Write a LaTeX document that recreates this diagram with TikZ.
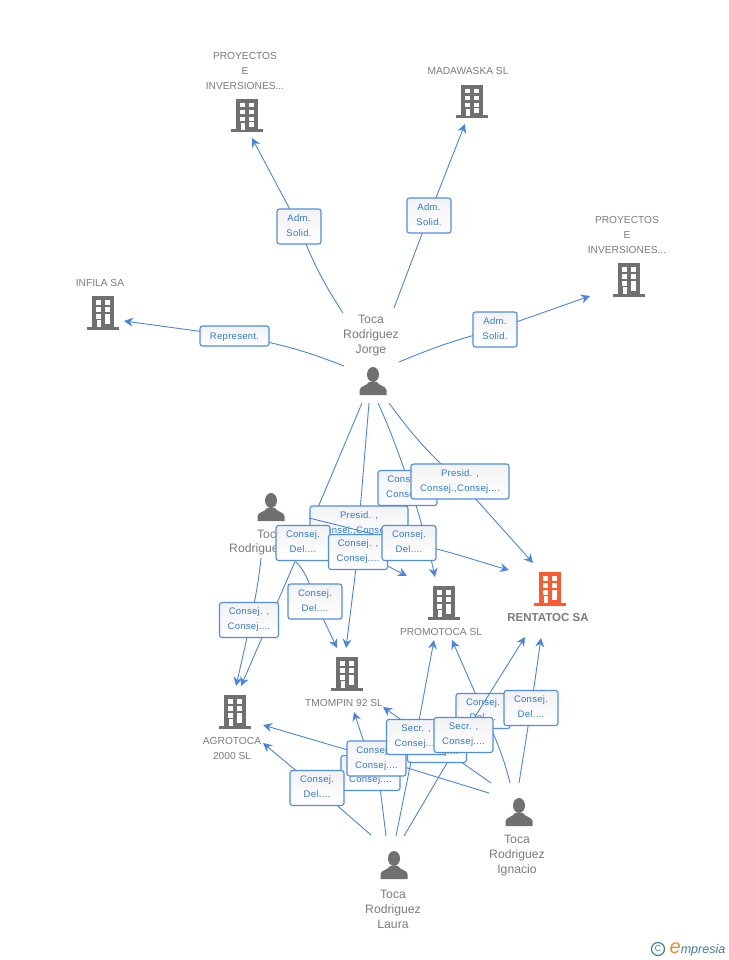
\documentclass[tikz,border=0pt]{standalone}
\usepackage{fontspec}
\setmainfont{Liberation Sans}
\newfontfamily\boxfont[LetterSpace=3]{Liberation Sans}
\usetikzlibrary{arrows.meta}
\definecolor{edgeblue}{HTML}{4A86E0}
\definecolor{boxblue}{HTML}{4F8DE6}
\definecolor{boxtext}{HTML}{2F78E0}
\definecolor{icongrey}{HTML}{707070}
\definecolor{txtgrey}{HTML}{7C7C7C}
\definecolor{hot}{HTML}{FF5A2E}
\definecolor{logoteal}{HTML}{3E7F95}
\definecolor{logoorange}{HTML}{F08A24}
\tikzset{
  edgeline/.style={draw=edgeblue,line width=0.9pt},
  tipline/.style={edgeline,-{Stealth[length=9pt,width=9pt,inset=3pt]}},
  lbl/.style={draw=boxblue,line width=1.1pt,rounded corners=2.5pt,top color=black!5,bottom color=white,
    text=boxtext,font=\boxfont\fontsize{9.5}{15}\selectfont,align=center,inner sep=0pt,
    execute at begin node={\rule{0pt}{9pt}},execute at end node={\rule[-2pt]{0pt}{2pt}}},
  lblA/.style={lbl,minimum width=54pt,minimum height=35pt},
  lblB/.style={lbl,minimum width=59pt,minimum height=35pt},
  lblC/.style={lbl,minimum width=44pt,minimum height=35pt},
  lblD/.style={lbl,minimum width=98pt,minimum height=35pt},
  cname/.style={text=txtgrey,align=center,inner sep=0pt,font=\fontsize{10.2}{15}\selectfont},
  pname/.style={text=txtgrey,align=center,inner sep=0pt,font=\fontsize{12.2}{15}\selectfont},
  building/.pic={
    \fill[#1] (-11,-17) rectangle (11,14);
    \fill[#1] (-16,13.5) rectangle (16,16.5);
    \foreach \yy in {-13,-6,1}{
      \fill[white] (-7,\yy) rectangle (-2,\yy+4.5);
      \fill[white] (2,\yy) rectangle (7,\yy+4.5);}
    \fill[white] (-6,7) rectangle (-2,14);
    \fill[white] (2,6) rectangle (7,11);
  },
  personicon/.pic={
    \fill[icongrey] (0,-6.5) ellipse (6 and 7.5);
    \fill[icongrey] (-13.5,14) -- (-13.5,9) .. controls (-13,5) and (-6,5) .. (-4,1) -- (4,1)
      .. controls (6,5) and (13,5) .. (13.5,9) -- (13.5,14) -- cycle;
  },
}
\begin{document}
\begin{tikzpicture}[x=1pt,y=-1pt]
\useasboundingbox[fill=white] (0,0) rectangle (728,960);

% Icons
\coordinate (proyA) at (247,116);
\coordinate (mada) at (472,102);
\coordinate (proyB) at (629,280);
\coordinate (infila) at (103,313);
\coordinate (promo) at (444,603);
\coordinate (tmom) at (347,674);
\coordinate (agro) at (235,712);
\coordinate (renta) at (550,589);
\coordinate (jorge) at (373,381);
\coordinate (leftp) at (271,507);
\coordinate (ignacio) at (519,812);
\coordinate (laura) at (394,865);
\foreach \b in {proyA,mada,proyB,infila,promo,tmom,agro}{\pic at (\b) {building=icongrey};}
\pic at (renta) {building=hot};
\foreach \p in {jorge,leftp,ignacio,laura}{\pic at (\p) {personicon};}

% Names
\node[cname] (nProyA) at (245,71) {PROYECTOS\\E\\INVERSIONES...};
\node[cname] (nMada) at (468,71) {MADAWASKA SL};
\node[cname] (nProyB) at (627,235) {PROYECTOS\\E\\INVERSIONES...};
\node[cname] (nInfila) at (100,283) {INFILA SA};
\node[cname] (nPromo) at (441,632) {PROMOTOCA SL};
\node[cname] (nTmom) at (344,703) {TMOMPIN 92 SL};
\node[cname] (nAgro) at (232,748.5) {AGROTOCA\\2000 SL};
\node[text=txtgrey,inner sep=0pt,font=\bfseries\fontsize{11.5}{15}\selectfont] (nRenta) at (548,618) {RENTATOC SA};
\node[pname] (nJorge) at (371,336) {Toca\\Rodriguez\\Jorge};
\node[pname] (nLeftA) at (270,534) {Toca};
\node[pname,anchor=west] (nLeftB) at (229,549) {Rodriguez};
\node[pname] (nIgnacio) at (517,856) {Toca\\Rodriguez\\Ignacio};
\node[pname] (nLaura) at (393,909) {Toca\\Rodriguez\\Laura};

% Connector ends
\coordinate (s1) at (343,313); \coordinate (t1) at (252,138);
\coordinate (s2) at (394,308); \coordinate (t2) at (465,124);
\coordinate (s3) at (399,362); \coordinate (t3) at (590,296);
\coordinate (s4) at (344,366); \coordinate (t4) at (124,321);
\coordinate (s5) at (362,403); \coordinate (t5) at (241,686);
\coordinate (s6) at (261,558); \coordinate (t6) at (236,686);
\coordinate (s7) at (296,562); \coordinate (t7) at (337,648);
\coordinate (s8) at (369,403); \coordinate (t8) at (346,648);
\coordinate (s9) at (309,518); \coordinate (t9) at (509,570);
\coordinate (s10) at (345,544); \coordinate (t10) at (407,576);
\coordinate (s11) at (378,403); \coordinate (t11) at (435,577);
\coordinate (s12) at (389,403); \coordinate (t12) at (533,563);
\coordinate (s13) at (371,835); \coordinate (t13) at (263,743);
\coordinate (s14) at (386,836); \coordinate (t14) at (354,712);
\coordinate (s15) at (489,793); \coordinate (t15) at (263,725);
\coordinate (s16) at (396,836); \coordinate (t16) at (434,640);
\coordinate (s17) at (404,836); \coordinate (t17) at (525,637);
\coordinate (s18) at (519,783); \coordinate (t18) at (541,638);
\coordinate (s19) at (510,783); \coordinate (t19) at (452,640);
\coordinate (s20) at (491,783); \coordinate (t20) at (383,707);

% Label centres
\coordinate (bAdmA) at (299,226.5);
\coordinate (bAdmB) at (429,215.5);
\coordinate (bAdmC) at (495,329.5);
\coordinate (bRep) at (234.5,336);
\coordinate (bPres1) at (359,523.5);
\coordinate (bPres2) at (460,481.5);
\coordinate (bCons1) at (407.5,488);
\coordinate (bDel1) at (303,543);
\coordinate (bCons2) at (358,552);
\coordinate (bDel2) at (409,543);
\coordinate (bDel3) at (315,601.5);
\coordinate (bCons3) at (249,620);
\coordinate (bDel4) at (317,788);
\coordinate (bCons4) at (376.5,758.5);
\coordinate (bCons5) at (370.5,773);
\coordinate (bCons6) at (437,745);
\coordinate (bSecr1) at (416,737);
\coordinate (bSecr2) at (463.5,735);
\coordinate (bDel5) at (483,711);
\coordinate (bDel6) at (531,708);
\coordinate (k14) at (369,758);

% Connectors
\draw[edgeline] (s1) to[bend left=6] (bAdmA);
\draw[tipline] (bAdmA) -- (t1);
\draw[edgeline] (s2) -- (bAdmB);
\draw[tipline] (bAdmB) -- (t2);
\draw[edgeline] (s3) to[bend left=4] (bAdmC);
\draw[tipline] (bAdmC) -- (t3);
\draw[edgeline] (s4) to[bend right=6] (bRep);
\draw[tipline] (bRep) -- (t4);
\draw[edgeline] (s5) -- (bDel1);
\draw[tipline] (bDel1) -- (t5);
\draw[tipline] (s6) .. controls (258,590) and (250,625) .. (t6);
\draw[edgeline] (s7) .. controls (303,568) and (311,584) .. (bDel3);
\draw[tipline] (bDel3) -- (t7);
\draw[edgeline] (s8) -- (bPres1);
\draw[edgeline] (bPres1) -- (bCons2);
\draw[tipline] (bCons2) -- (t8);
\draw[tipline] (s11) .. controls (400,450) and (425,530) .. (t11);
\draw[edgeline] (s12) to[bend right=6] (bPres2);
\draw[tipline] (bPres2) -- (t12);
\draw[tipline] (s10) -- (t10);
\draw[edgeline] (s13) -- (bDel4);
\draw[tipline] (bDel4) -- (t13);
\draw[edgeline] (s14) -- (bCons4);
\draw[tipline] (k14) -- (t14);
\draw[edgeline] (s15) -- (bCons4);
\draw[tipline] (bCons4) -- (t15);
\draw[edgeline] (s16) -- (bSecr1);
\draw[tipline] (bSecr1) -- (t16);
\draw[edgeline] (s20) -- (bCons6);
\draw[tipline] (bCons6) -- (t20);
\draw[edgeline] (s18) -- (bDel6);
\draw[tipline] (bDel6) -- (t18);
\draw[edgeline] (s19) .. controls (505,762) and (497,740) .. (bDel5);
\draw[tipline] (bDel5) -- (t19);

% Labels, stacked as in the picture
\node[lblC] (lAdmA) at (bAdmA) {Adm.\\Solid.};
\node[lblC] (lAdmB) at (bAdmB) {Adm.\\Solid.};
\node[lblC] (lAdmC) at (bAdmC) {Adm.\\Solid.};
\node[lbl,minimum width=69pt,minimum height=20pt] (lRep) at (bRep) {Represent.};
\node[lblD] (lPres1) at (bPres1) {Presid. ,\\Consej.,Consej....};
\draw[edgeline] (s9) -- (bDel2);
\draw[tipline] (bDel2) .. controls (440,548) and (480,562) .. (t9);
\node[lblB] (lCons1) at (bCons1) {Consej. ,\\Consej....};
\node[lblD] (lPres2) at (bPres2) {Presid. ,\\Consej.,Consej....};
\node[lblA] (lDel1) at (bDel1) {Consej.\\Del....};
\node[lblB] (lCons2) at (bCons2) {Consej. ,\\Consej....};
\node[lblA] (lDel2) at (bDel2) {Consej.\\Del....};
\node[lblA] (lDel3) at (bDel3) {Consej.\\Del....};
\node[lblB] (lCons3) at (bCons3) {Consej. ,\\Consej....};
\node[lblA] (lDel5) at (bDel5) {Consej.\\Del....};
\draw[edgeline] (s17) -- (bSecr2);
\draw[tipline] (bSecr2) -- (t17);
\node[lblA] (lDel6) at (bDel6) {Consej.\\Del....};
\node[lblB] (lCons6) at (bCons6) {Consej. ,\\Consej....};
\node[lblB] (lCons5) at (bCons5) {Consej. ,\\Consej....};
\node[lblB] (lCons4) at (bCons4) {Consej. ,\\Consej....};
\node[lblA] (lDel4) at (bDel4) {Consej.\\Del....};
\node[lblB] (lSecr1) at (bSecr1) {Secr. ,\\Consej....};
\node[lblB] (lSecr2) at (bSecr2) {Secr. ,\\Consej....};

% Logo
\node[circle,draw=logoteal,line width=1.2pt,minimum size=13pt,inner sep=0pt,text=logoteal,font=\fontsize{8.5}{8.5}\selectfont] (logoC) at (658,949) {C};
\node[anchor=base west,inner sep=0pt,text=logoteal,font=\itshape\fontsize{12.5}{12}\selectfont] (logoT) at (669.5,953) {\textcolor{logoorange}{\fontsize{20}{20}\selectfont e}mpresia};
\end{tikzpicture}
\end{document}
